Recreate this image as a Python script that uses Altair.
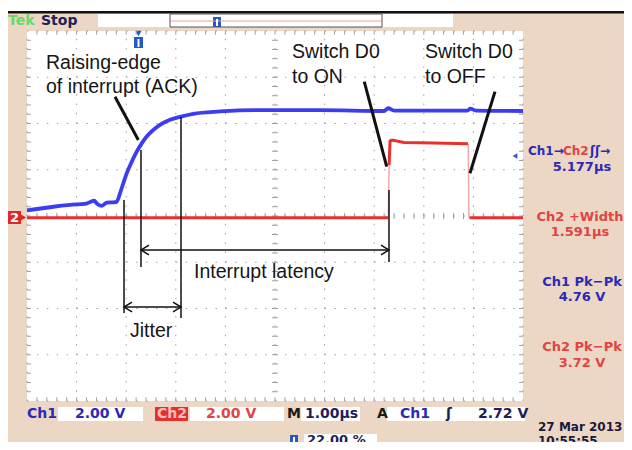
import altair as alt
import pandas as pd

# ---------------- data (time in µs, level in screen divisions) ----------------
# Channel 1 (blue): interrupt acknowledge line
ch1_t = [-2.2, -1.67, -1.33, -1.0, -0.85, -0.78, -0.69, -0.59, -0.43, -0.39, -0.325,
         -0.258, -0.19, -0.089, 0.012, 0.113, 0.213, 0.346, 0.481, 0.683, 0.905,
         1.153, 1.691, 2.363, 3.7, 5.0, 5.08, 5.2, 6.68, 6.74, 6.85, 7.8]
ch1_v = [0.12, 0.20, 0.24, 0.27, 0.33, 0.26, 0.22, 0.29, 0.30, 0.31, 0.49,
         0.71, 0.92, 1.17, 1.39, 1.57, 1.72, 1.86, 1.97, 2.08, 2.15,
         2.21, 2.26, 2.29, 2.29, 2.27, 2.33, 2.28, 2.28, 2.32, 2.28, 2.27]

# Channel 2 (red): D0 output pulse
ch2_seg = [0, 0, 1, 1, 1, 1, 1, 1, 2, 2]
ch2_t = [-2.2, 5.08, 5.10, 5.12, 5.16, 5.4, 6.0, 6.69, 6.72, 7.8]
ch2_v = [-0.04, -0.04, 1.1, 1.62, 1.64, 1.59, 1.58, 1.56, -0.04, -0.04]
# fast (faint) edges of the pulse
edge_t1 = [5.085, 6.695]
edge_v1 = [-0.04, 1.56]
edge_t2 = [5.10, 6.71]
edge_v2 = [1.1, -0.04]

# annotations
note_text = ["Raising-edge", "of interrupt (ACK)", "Switch D0", "to ON",
             "Switch D0", "to OFF", "Interrupt latency", "Jitter"]
note_t = [-1.817, -1.817, 3.143, 3.143, 5.824, 5.824, 1.167, -0.123]
note_v = [3.178, 2.659, 3.416, 2.876, 3.416, 2.876, -1.341, -2.616]

pointer_t1 = [-0.426, 4.600, 7.235]
pointer_v1 = [2.58, 2.904, 2.688]
pointer_t2 = [0.044, 5.052, 6.731]
pointer_v2 = [1.643, 1.066, 0.923]

marker_t = [-0.244, 0.098, 0.905, 5.098]
marker_top = [0.346, 1.427, 2.141, 0.562]
marker_bot = [-2.097, -1.103, -2.205, -0.995]

span_from = [0.098, -0.244]
span_to = [5.098, 0.905]
span_v = [-0.735, -1.968]

# screen graticule
x_divs = [-2.2 + i for i in range(11)]
y_divs = [-4 + i for i in range(9)]
x_center = 2.8
y_center = 0.0

# on-screen readouts
meas_text = ["5.177µs", "Ch2 +Width", "1.591µs", "Ch1 Pk−Pk", "4.76 V", "Ch2 Pk−Pk", "3.72 V"]
meas_color = ["#2a2ab8", "#e04444", "#e04444", "#2a2ab8", "#2a2ab8", "#e04444", "#e04444"]

BLUE_TXT = "#2a2ab8"
RED_TXT = "#e04444"
NAVY = "#1e1e5a"

# ---------------- scales ----------------
xs = alt.Scale(domain=[-2.2, 7.8], nice=False, zero=False)
ys = alt.Scale(domain=[-4, 4], nice=False, zero=False)
OX, OY = 27, 31  # plot-area origin on the page (chrome is laid out in page pixels)


def X(f):
    return alt.X(f, type="quantitative", scale=xs, axis=None)


def Y(f):
    return alt.Y(f, type="quantitative", scale=ys, axis=None)


def PX(f):
    return alt.X(f, type="quantitative", scale=None, axis=None)


def PY(f):
    return alt.Y(f, type="quantitative", scale=None, axis=None)


GRID = "#a0a0a0"

# graticule lines
vlines = pd.DataFrame({"x1": x_divs, "y1": [-4] * len(x_divs), "y2": [4] * len(x_divs)})
hlines = pd.DataFrame({"y1": y_divs, "x1": [-2.2] * len(y_divs), "x2": [7.8] * len(y_divs)})
g_v = alt.Chart(vlines).mark_rule(color=GRID, strokeWidth=1, strokeDash=[1.5, 7.75]).encode(
    x=X("x1"), y=Y("y1"), y2="y2")
g_h = alt.Chart(hlines).mark_rule(color=GRID, strokeWidth=1, strokeDash=[1.5, 8.42]).encode(
    y=Y("y1"), x=X("x1"), x2="x2")

# minor ticks: centre cross + border
minor_x = [-2.2 + 0.2 * i for i in range(1, 50)]
minor_y = [-4 + 0.2 * i for i in range(1, 40)]
tk = []
for t in minor_x:
    tk.append((t, y_center - 0.065, t, y_center + 0.065))
    tk.append((t, -4, t, -3.92))
    tk.append((t, 4, t, 3.92))
for v in minor_y:
    tk.append((x_center - 0.06, v, x_center + 0.06, v))
    tk.append((-2.2, v, -2.12, v))
    tk.append((7.8, v, 7.72, v))
ticks = pd.DataFrame(tk, columns=["x1", "y1", "x2", "y2"])
g_t = alt.Chart(ticks).mark_rule(color=GRID, strokeWidth=1).encode(
    x=X("x1"), y=Y("y1"), x2="x2", y2="y2")

# traces
ch1 = pd.DataFrame({"t": ch1_t, "v": ch1_v})
ch2 = pd.DataFrame({"t": ch2_t, "v": ch2_v, "s": ch2_seg})
edges = pd.DataFrame({"x1": edge_t1, "y1": edge_v1, "x2": edge_t2, "y2": edge_v2})

blue = alt.Chart(ch1).mark_line(color="#3c3cf0", strokeWidth=3.8, interpolate="monotone").encode(
    x=X("t"), y=Y("v"))
red = alt.Chart(ch2).mark_line(color="#e8302e", strokeWidth=3).encode(
    x=X("t"), y=Y("v"), detail="s:N")
red_e = alt.Chart(edges).mark_rule(color="#f4a8a8", strokeWidth=1.5).encode(
    x=X("x1"), y=Y("y1"), x2="x2", y2="y2")

# annotations
notes = pd.DataFrame({"t": note_t, "v": note_v, "txt": note_text})
a_text = alt.Chart(notes).mark_text(font="Liberation Sans", fontSize=19.5, align="left",
                                    baseline="alphabetic", color="#151515").encode(
    x=X("t"), y=Y("v"), text="txt:N")
ptr = pd.DataFrame({"x1": pointer_t1, "y1": pointer_v1, "x2": pointer_t2, "y2": pointer_v2})
a_ptr = alt.Chart(ptr).mark_rule(color="#111111", strokeWidth=3).encode(
    x=X("x1"), y=Y("y1"), x2="x2", y2="y2")
mk = pd.DataFrame({"x1": marker_t, "y1": marker_top, "y2": marker_bot})
a_mk = alt.Chart(mk).mark_rule(color="#111111", strokeWidth=1.5).encode(
    x=X("x1"), y=Y("y1"), y2="y2")
sp = pd.DataFrame({"x1": span_from, "x2": span_to, "y1": span_v})
a_sp = alt.Chart(sp).mark_rule(color="#111111", strokeWidth=1.5).encode(
    x=X("x1"), x2="x2", y=Y("y1"))
heads_l = pd.DataFrame({"t": span_from, "v": span_v})
heads_r = pd.DataFrame({"t": span_to, "v": span_v})
a_hl = alt.Chart(heads_l).mark_point(shape="M2,-1.2L0,0L2,1.2", size=64, filled=False,
                                     color="#111111", strokeWidth=1.5, opacity=1).encode(x=X("t"), y=Y("v"))
a_hr = alt.Chart(heads_r).mark_point(shape="M-2,-1.2L0,0L-2,1.2", size=64, filled=False,
                                     color="#111111", strokeWidth=1.5, opacity=1).encode(x=X("t"), y=Y("v"))

# ---------------- instrument chrome (page pixels) ----------------
rects = pd.DataFrame([
    (8, 8, 632, 12, "#ffffff"),
    (8, 11, 632, 13.5, "#111111"),
    (98, 14, 453, 27, "#ffffff"),
    (58, 407, 143, 421, "#ffffff"),
    (190, 407, 284, 421, "#ffffff"),
    (301, 407, 360, 421, "#ffffff"),
    (387, 407, 525, 421, "#ffffff"),
    (304, 434, 377, 446, "#ffffff"),
    (155, 407, 188, 421, "#e4302c"),
    (8, 211, 21, 224, "#e02828"),
    (134, 37, 143, 48, "#2258c8"),
    (213, 17, 221, 27, "#2258c8"),
    (290, 435, 298, 446, "#2258c8"),
], columns=["x1", "y1", "x2", "y2", "c"])
rects[["x1", "x2"]] -= OX
rects[["y1", "y2"]] -= OY
c_rect = alt.Chart(rects).mark_rect().encode(
    x=PX("x1"), x2="x2", y=PY("y1"), y2="y2", color=alt.Color("c:N", scale=None))

frame = pd.DataFrame({"x1": [170 - OX], "x2": [382 - OX], "y1": [14 - OY], "y2": [27 - OY]})
c_frame = alt.Chart(frame).mark_rect(fill=None, stroke="#555555", strokeWidth=1).encode(
    x=PX("x1"), x2="x2", y=PY("y1"), y2="y2")
pl = pd.DataFrame({"x1": [171 - OX], "x2": [381 - OX], "y1": [21 - OY]})
c_pl = alt.Chart(pl).mark_rule(color="#f0a0a0", strokeWidth=1).encode(x=PX("x1"), x2="x2", y=PY("y1"))
slit = pd.DataFrame({"x1": [138.5 - OX, 217 - OX, 294 - OX],
                     "y1": [39 - OY, 19 - OY, 437 - OY], "y2": [47 - OY, 26 - OY, 445 - OY]})
c_slit = alt.Chart(slit).mark_rule(color="#ffffff", strokeWidth=2).encode(x=PX("x1"), y=PY("y1"), y2="y2")

tri = pd.DataFrame([
    (138.5, 33.5, "triangle-down", "#2258c8", 40),
    (22.5, 217.5, "triangle-right", "#e02828", 70),
    (515, 156, "triangle-left", "#3050e0", 30),
], columns=["x", "y", "shape", "c", "sz"])
tri["x"] -= OX
tri["y"] -= OY
c_tri = alt.Chart(tri).mark_point(filled=True, opacity=1).encode(
    x=PX("x"), y=PY("y"), shape=alt.Shape("shape:N", scale=None),
    color=alt.Color("c:N", scale=None), size=alt.Size("sz:Q", scale=None))

texts = pd.DataFrame([
    ("Tek", 8, 21, "#68d868", "left", 14),
    ("Stop", 41, 21, NAVY, "left", 14),
    ("Ch1", 27, 414, BLUE_TXT, "left", 14),
    ("2.00 V", 75, 414, BLUE_TXT, "left", 14),
    ("Ch2", 157, 414, "#ffc0c0", "left", 14),
    ("2.00 V", 206, 414, RED_TXT, "left", 14),
    ("M", 287, 414, "#1a1a1a", "left", 14),
    ("1.00µs", 305, 414, NAVY, "left", 14),
    ("A", 377, 414, "#1a1a1a", "left", 14),
    ("Ch1", 400, 414, BLUE_TXT, "left", 14),
    ("ʃ", 446, 414, NAVY, "left", 14),
    ("2.72 V", 478, 414, NAVY, "left", 14),
    ("22.00 %", 307, 440, NAVY, "left", 13),
    ("27 Mar 2013", 538, 427, "#1a1a3a", "left", 12),
    ("10:55:55", 538, 441, "#1a1a3a", "left", 12),
    ("2", 14.5, 218, "#ffffff", "center", 13),
    ("Ch1→", 528, 151, BLUE_TXT, "left", 12),
    ("Ch2", 563, 151, RED_TXT, "left", 12),
    ("ʃʃ→", 590, 151, BLUE_TXT, "left", 12),
    (meas_text[0], 582, 167, meas_color[0], "center", 13),
    (meas_text[1], 580, 217, meas_color[1], "center", 13),
    (meas_text[2], 580, 232, meas_color[2], "center", 13),
    (meas_text[3], 582, 282, meas_color[3], "center", 13),
    (meas_text[4], 582, 297, meas_color[4], "center", 13),
    (meas_text[5], 582, 347, meas_color[5], "center", 13),
    (meas_text[6], 582, 363, meas_color[6], "center", 13),
], columns=["txt", "x", "y", "c", "al", "fs"])
texts["x"] -= OX
texts["y"] -= OY


def text_layer(df, align):
    return alt.Chart(df).mark_text(
        font="DejaVu Sans", fontWeight="bold", align=align, baseline="middle").encode(
        x=PX("x"), y=PY("y"), text="txt:N", color=alt.Color("c:N", scale=None),
        size=alt.Size("fs:Q", scale=None))


c_txt_l = text_layer(texts[texts.al == "left"], "left")
c_txt_c = text_layer(texts[texts.al == "center"], "center")

chart = alt.layer(
    c_rect, c_frame, c_pl, c_slit, c_tri,
    g_v, g_h, g_t,
    blue, red_e, red,
    a_mk, a_sp, a_hl, a_hr, a_ptr, a_text,
    c_txt_l, c_txt_c,
).properties(
    width=496, height=370,
    background="#ecd7c4",
    padding={"left": 19, "top": 23, "right": 101, "bottom": 41},
    autosize=alt.AutoSizeParams(type="none"),
).configure_view(stroke=None, fill="#ffffff")

chart.save("out.html", embed_options={"renderer": "svg", "actions": False})
